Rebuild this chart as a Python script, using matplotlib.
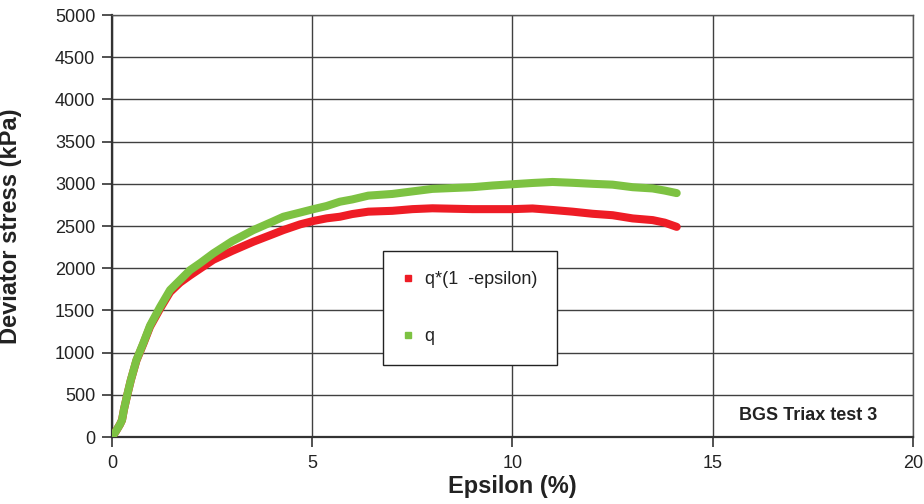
import matplotlib
matplotlib.use("Agg")
import matplotlib.pyplot as plt
from matplotlib.lines import Line2D

plt.rcParams['font.family'] = ['Liberation Sans', 'DejaVu Sans']

# Axial strain (%) and deviator stress q (kPa)
eps_q = [0.0, 0.1, 0.2, 0.25, 0.3, 0.37, 0.47, 0.61, 0.78, 0.95, 1.2, 1.45, 1.7,
         1.95, 2.2, 2.53, 3.0, 3.53, 4.0, 4.28, 4.7, 5.03, 5.36, 5.69, 6.0,
         6.4, 7.0, 7.5, 8.0, 8.5, 9.0, 9.5, 10.0, 10.5, 11.0, 11.5, 12.0,
         12.5, 13.0, 13.5, 13.8, 14.1]
q = [0, 70, 150, 200, 330, 478, 675, 912, 1110, 1320, 1540, 1742, 1860,
     1978, 2060, 2176, 2320, 2452, 2550, 2610, 2660, 2700, 2737, 2788, 2815,
     2860, 2880, 2910, 2940, 2950, 2960, 2980, 2995, 3010, 3022, 3012, 3000,
     2990, 2960, 2945, 2920, 2890]

# Corrected deviator stress q*(1 - epsilon) (kPa)
q_corr = [0, 70, 150, 200, 329, 476, 672, 906, 1101, 1307, 1520, 1717, 1830,
          1915, 1995, 2100, 2205, 2314, 2400, 2452, 2520, 2560, 2591, 2610,
          2642, 2670, 2680, 2700, 2710, 2705, 2700, 2700, 2700, 2708, 2690,
          2670, 2645, 2628, 2590, 2570, 2540, 2490]

series_labels = ['q*(1  -epsilon)', 'q']
series_colors = ['#ee1c25', '#7dc242']
x_ticks = [0, 5, 10, 15, 20]
y_ticks = list(range(0, 5001, 500))

fig = plt.figure(figsize=(9.24, 5.04), dpi=100)
ax = fig.add_axes([0.1212, 0.1329, 0.8669, 0.8373])

lw = 5.8
ax.plot(eps_q, q_corr, color=series_colors[0], lw=lw,
        solid_capstyle='round', solid_joinstyle='round', zorder=3)
ax.plot(eps_q, q, color=series_colors[1], lw=lw,
        solid_capstyle='round', solid_joinstyle='round', zorder=4)

ax.set_xlim(0, 20)
ax.set_ylim(0, 5000)
ax.set_xticks(x_ticks)
ax.set_yticks(y_ticks)
ax.grid(True, color='#404040', lw=1.0, zorder=1)
ax.set_axisbelow(True)

ax.tick_params(axis='both', direction='out', length=7, width=1.2,
               color='#333333', labelsize=13, labelcolor='#222222')
ax.tick_params(axis='y', pad=5)
ax.tick_params(axis='x', pad=6)

for side in ['left', 'bottom']:
    ax.spines[side].set_linewidth(1.6)
    ax.spines[side].set_color('#333333')
for side in ['top', 'right']:
    ax.spines[side].set_linewidth(1.0)
    ax.spines[side].set_color('#555555')

ax.set_xlabel('Epsilon (%)', fontsize=17, fontweight='bold', color='#222222')
ax.set_ylabel('Deviator stress (kPa)', fontsize=17, fontweight='bold',
              color='#222222')
ax.xaxis.set_label_coords(0.5, -0.09)
ax.yaxis.set_label_coords(-0.112, 0.5)

handles = [Line2D([], [], ls='none', marker='s', markersize=5,
                  markerfacecolor=c, markeredgecolor=c) for c in series_colors]
leg = ax.legend(handles, series_labels, loc='upper left',
                bbox_to_anchor=(0.3383, 0.4408), fontsize=13,
                frameon=True, fancybox=False, framealpha=1.0,
                edgecolor='#222222', borderpad=1.1, labelspacing=2.25,
                handlelength=0.6, handletextpad=0.6, borderaxespad=0)
leg.get_frame().set_linewidth(1.0)
for t in leg.get_texts():
    t.set_color('#222222')

ax.text(17.38, 260, 'BGS Triax test 3', fontsize=13, fontweight='bold',
        ha='center', va='center', color='#222222', zorder=5)

fig.savefig('out.png', dpi=100)
